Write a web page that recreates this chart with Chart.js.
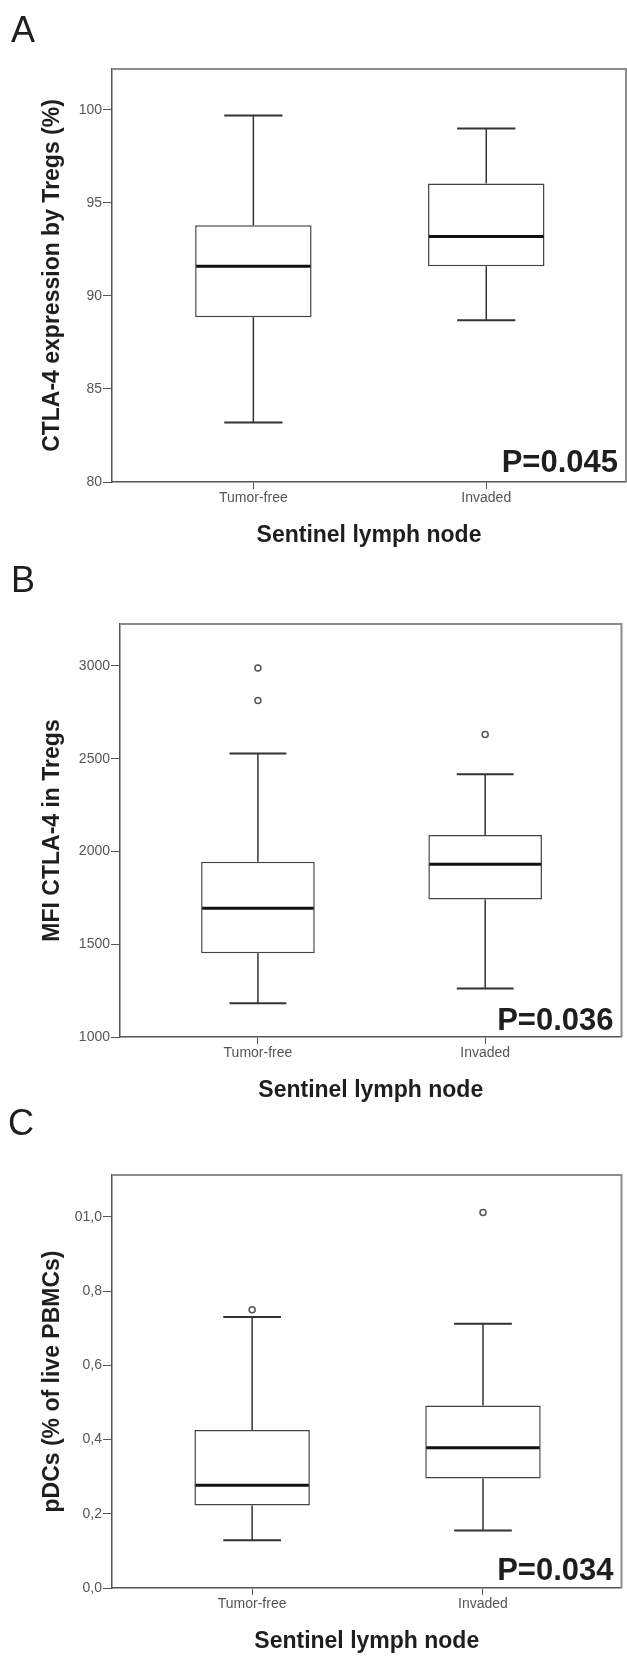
<!DOCTYPE html>
<html>
<head>
<meta charset="utf-8">
<script src="https://cdn.jsdelivr.net/npm/chart.js@4.4.1/dist/chart.umd.min.js"></script>
<style>
  html, body { margin: 0; padding: 0; background: #fff; }
  body { position: relative; width: 627px; height: 1657px; overflow: hidden; font-family: 'Liberation Sans', Arial, sans-serif; }
  canvas { position: absolute; left: 0; }
  .letter { position: absolute; font-size: 36px; line-height: 36px; color: #1e1e1e; z-index: 2; }
</style>
</head>
<body>
<div class="letter" style="left:11px;top:12px">A</div>
<div class="letter" style="left:11px;top:562px">B</div>
<div class="letter" style="left:8px;top:1105px">C</div>
<canvas id="chartA" width="627" height="560" style="top:0px"></canvas>
<canvas id="chartB" width="627" height="555" style="top:560px"></canvas>
<canvas id="chartC" width="627" height="542" style="top:1115px"></canvas>

<script>
// Groupes (ganglion sentinelle)
var groups = ['Tumor-free', 'Invaded'];
var xTitle = 'Sentinel lymph node';

// A - CTLA-4 expression by Tregs (%)
var ctlaMin = [83.2, 88.7];
var ctlaQ1 = [88.85, 91.6];
var ctlaMedian = [91.6, 93.2];
var ctlaQ3 = [93.8, 96.05];
var ctlaMax = [99.7, 99.0];
var ctlaOutliers = [[], []];
var ctlaTicks = [80, 85, 90, 95, 100];
var ctlaTickLabels = ['80', '85', '90', '95', '100'];

// B - MFI CTLA-4 in Tregs
var mfiMin = [1182, 1262];
var mfiQ1 = [1452, 1741];
var mfiMedian = [1694, 1931];
var mfiQ3 = [1944, 2089];
var mfiMax = [2528, 2416];
var mfiOutliers = [[2989, 2814], [2630]];
var mfiTicks = [1000, 1500, 2000, 2500, 3000];
var mfiTickLabels = ['1000', '1500', '2000', '2500', '3000'];

// C - pDCs (% of live PBMCs)
var pdcMin = [0.129, 0.155];
var pdcQ1 = [0.222, 0.295];
var pdcMedian = [0.277, 0.378];
var pdcQ3 = [0.426, 0.492];
var pdcMax = [0.730, 0.712];
var pdcOutliers = [[0.750], [1.012]];
var pdcTicks = [0, 0.2, 0.4, 0.6, 0.8, 1.0];
var pdcTickLabels = ['0,0', '0,2', '0,4', '0,6', '0,8', '01,0'];

Chart.defaults.font.family = "'Liberation Sans', Arial, sans-serif";

// Moustaches, médianes, cadre et valeur P
function boxExtras(mins, q1s, medians, q3s, maxs, pText, pOffset) {
    return {
        id: 'boxExtras',
        afterDatasetsDraw: function(chart) {
            var ctx = chart.ctx, x = chart.scales.x, y = chart.scales.y;
            ctx.save();
            groups.forEach(function(g, i) {
                var cx = x.getPixelForValue(i);
                var capHalf = x.getPixelForValue(i + 0.125) - cx;
                var boxHalf = x.getPixelForValue(i + 0.25) - cx;
                ctx.strokeStyle = '#333';
                ctx.lineWidth = 1.5;
                ctx.beginPath();
                ctx.moveTo(cx, y.getPixelForValue(q3s[i]));
                ctx.lineTo(cx, y.getPixelForValue(maxs[i]));
                ctx.moveTo(cx, y.getPixelForValue(q1s[i]));
                ctx.lineTo(cx, y.getPixelForValue(mins[i]));
                ctx.stroke();
                ctx.lineWidth = 2;
                ctx.beginPath();
                ctx.moveTo(cx - capHalf, y.getPixelForValue(maxs[i]));
                ctx.lineTo(cx + capHalf, y.getPixelForValue(maxs[i]));
                ctx.moveTo(cx - capHalf, y.getPixelForValue(mins[i]));
                ctx.lineTo(cx + capHalf, y.getPixelForValue(mins[i]));
                ctx.stroke();
                ctx.strokeStyle = '#111';
                ctx.lineWidth = 3;
                ctx.beginPath();
                ctx.moveTo(cx - boxHalf + 1, y.getPixelForValue(medians[i]));
                ctx.lineTo(cx + boxHalf - 1, y.getPixelForValue(medians[i]));
                ctx.stroke();
            });
            var a = chart.chartArea;
            ctx.strokeStyle = '#8c8c8c';
            ctx.lineWidth = 2;
            ctx.beginPath();
            ctx.moveTo(a.left, a.top);
            ctx.lineTo(a.right, a.top);
            ctx.lineTo(a.right, a.bottom);
            ctx.stroke();
            ctx.fillStyle = '#1e1e1e';
            ctx.font = "bold 31px 'Liberation Sans', Arial, sans-serif";
            ctx.textAlign = 'right';
            ctx.textBaseline = 'alphabetic';
            ctx.fillText(pText, a.right - 8, a.bottom - pOffset);
            ctx.restore();
        }
    };
}

function makeBoxChart(id, p) {
    var canvas = document.getElementById(id);
    var xAxisH = p.canvasTop + canvas.height - p.areaBottom;
    var titleOffset = p.canvasTop + canvas.height - (p.areaBottom + 54);
    var outlierPoints = [];
    p.outliers.forEach(function(list, i) {
        list.forEach(function(v) { outlierPoints.push({ x: i, y: v }); });
    });

    return new Chart(canvas, {
        type: 'bar',
        data: {
            datasets: [{
                type: 'bar',
                data: groups.map(function(g, i) { return { x: i, y: [p.q1[i], p.q3[i]] }; }),
                backgroundColor: '#fff',
                borderColor: '#444',
                borderWidth: 1.5,
                borderSkipped: false,
                categoryPercentage: 1,
                barPercentage: 0.5
            }, {
                type: 'scatter',
                data: outlierPoints,
                pointRadius: 3,
                pointBorderWidth: 1.5,
                borderColor: '#555',
                backgroundColor: '#fff'
            }]
        },
        options: {
            responsive: false,
            animation: false,
            layout: { padding: { top: p.areaTop - p.canvasTop, right: 627 - p.areaRight, left: 0, bottom: 0 } },
            plugins: { legend: { display: false }, tooltip: { enabled: false } },
            scales: {
                x: {
                    type: 'linear',
                    min: -0.607,
                    max: 1.6,
                    offset: false,
                    afterBuildTicks: function(s) { s.ticks = groups.map(function(g, i) { return { value: i }; }); },
                    afterFit: function(s) { s.height = xAxisH; },
                    ticks: {
                        callback: function(v, i) { return groups[i]; },
                        color: '#555', font: { size: 14 }, padding: 1, autoSkip: false, maxRotation: 0
                    },
                    grid: { drawOnChartArea: false, drawTicks: true, tickLength: 7, color: '#555', offset: false },
                    border: { display: true, color: '#555', width: 1.5 },
                    title: {
                        display: true, text: xTitle, color: '#1e1e1e',
                        font: { size: 23, weight: 'bold' },
                        padding: { top: 0, bottom: titleOffset - 13.8 }
                    }
                },
                y: {
                    type: 'linear',
                    min: p.min,
                    max: p.max,
                    afterBuildTicks: function(s) { s.ticks = p.ticks.map(function(v) { return { value: v }; }); },
                    afterFit: function(s) { s.width = p.areaLeft; },
                    ticks: {
                        callback: function(v, i) { return p.tickLabels[i]; },
                        color: '#555', font: { size: 14 }, padding: 1, autoSkip: false
                    },
                    grid: { drawOnChartArea: false, drawTicks: true, tickLength: 9, color: '#555' },
                    border: { display: true, color: '#555', width: 1.5 },
                    title: {
                        display: true, text: p.yTitle, color: '#1e1e1e',
                        font: { size: 23, weight: 'bold' },
                        padding: { top: 39, bottom: 0 }
                    }
                }
            }
        },
        plugins: [boxExtras(p.minW, p.q1, p.median, p.q3, p.maxW, p.pText, p.pOffset)]
    });
}

makeBoxChart('chartA', {
    canvasTop: 0, areaTop: 69, areaBottom: 482, areaLeft: 112, areaRight: 626,
    min: 80, max: 102.2, ticks: ctlaTicks, tickLabels: ctlaTickLabels,
    minW: ctlaMin, q1: ctlaQ1, median: ctlaMedian, q3: ctlaQ3, maxW: ctlaMax, outliers: ctlaOutliers,
    yTitle: 'CTLA-4 expression by Tregs (%)', pText: 'P=0.045', pOffset: 10
});

makeBoxChart('chartB', {
    canvasTop: 560, areaTop: 624, areaBottom: 1037, areaLeft: 120, areaRight: 626,
    min: 1000, max: 3226, ticks: mfiTicks, tickLabels: mfiTickLabels,
    minW: mfiMin, q1: mfiQ1, median: mfiMedian, q3: mfiQ3, maxW: mfiMax, outliers: mfiOutliers,
    yTitle: 'MFI CTLA-4 in Tregs', pText: 'P=0.036', pOffset: 7
});

makeBoxChart('chartC', {
    canvasTop: 1115, areaTop: 1175, areaBottom: 1588, areaLeft: 112, areaRight: 623,
    min: 0, max: 1.113, ticks: pdcTicks, tickLabels: pdcTickLabels,
    minW: pdcMin, q1: pdcQ1, median: pdcMedian, q3: pdcQ3, maxW: pdcMax, outliers: pdcOutliers,
    yTitle: 'pDCs (% of live PBMCs)', pText: 'P=0.034', pOffset: 8
});
</script>
</body>
</html>
